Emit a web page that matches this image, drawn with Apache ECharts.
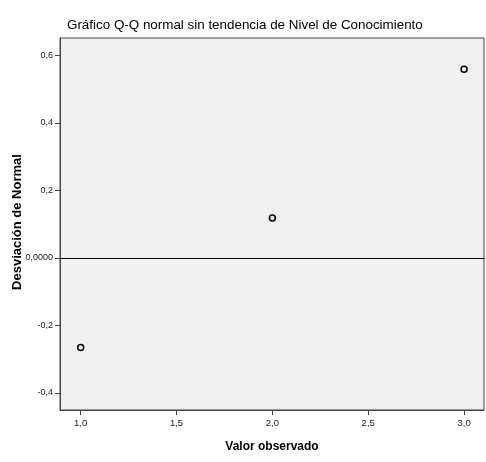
<!DOCTYPE html>
<html><head><meta charset="utf-8">
<script src="https://cdn.jsdelivr.net/npm/echarts@6/dist/echarts.min.js"></script>
<style>html,body{margin:0;padding:0;background:#fff}#c{width:486px;height:462px}</style>
</head><body><div id="c"></div>
<script>
const observed = [1.0, 2.0, 3.0];
const deviation = [-0.266, 0.118, 0.559];
const xTicks = [1.0, 1.5, 2.0, 2.5, 3.0];
const yTicks = [-0.4, -0.2, 0.0, 0.2, 0.4, 0.6];
const titleText = 'Gráfico Q-Q normal sin tendencia de Nivel de Conocimiento';
const xName = 'Valor observado';
const yName = 'Desviación de Normal';

const chart = echarts.init(document.getElementById('c'), null, {renderer: 'canvas'});
const fmt = v => {
  if (Math.abs(v) < 1e-9) return '0,0000';
  return v.toFixed(1).replace('.', ',');
};
chart.setOption({
  animation: false,
  backgroundColor: '#ffffff',
  title: {
    text: titleText, left: 67, top: 19, padding: 0,
    textStyle: {fontFamily: 'Liberation Sans, Arial', fontSize: 13.4, fontWeight: 'normal', color: '#000'}
  },
  grid: {left: 60, top: 38, right: 2, bottom: 52, show: true, backgroundColor: '#f0f0f0', borderColor: '#444', borderWidth: 1},
  xAxis: {
    type: 'value', min: 0.892, max: 3.104,
    axisLine: {show: true, onZero: false, lineStyle: {color: '#444'}},
    axisTick: {show: true, length: 5, customValues: xTicks, lineStyle: {color: '#444'}},
    axisLabel: {customValues: xTicks, formatter: fmt, margin: 8, color: '#222', fontFamily: 'Liberation Sans, Arial', fontSize: 9.5},
    splitLine: {show: false}
  },
  yAxis: {
    type: 'value', min: -0.451, max: 0.652,
    axisLine: {show: true, onZero: false, lineStyle: {color: '#444'}},
    axisTick: {show: true, length: 5, customValues: yTicks, lineStyle: {color: '#444'}},
    axisLabel: {customValues: yTicks, formatter: fmt, margin: 7, color: '#222', fontFamily: 'Liberation Sans, Arial', fontSize: 9},
    splitLine: {show: false}
  },
  graphic: [
    {type: 'text', x: 272, y: 447, style: {text: xName, align: 'center', verticalAlign: 'middle', font: 'bold 12px Liberation Sans, Arial', fill: '#000'}},
    {type: 'text', x: 17, y: 222, rotation: Math.PI / 2, style: {text: yName, align: 'center', verticalAlign: 'middle', font: 'bold 13px Liberation Sans, Arial', fill: '#000'}}
  ],
  series: [{
    type: 'scatter',
    data: observed.map((x, i) => [x, deviation[i]]),
    symbol: 'circle', symbolSize: 6,
    itemStyle: {color: '#f0f0f0', borderColor: '#000', borderWidth: 1.5, opacity: 1},
    markLine: {
      silent: true, symbol: ['none', 'none'], label: {show: false},
      lineStyle: {color: '#000', type: 'solid', width: 1},
      data: [{yAxis: 0}]
    },
    z: 5
  }]
});
</script></body></html>
